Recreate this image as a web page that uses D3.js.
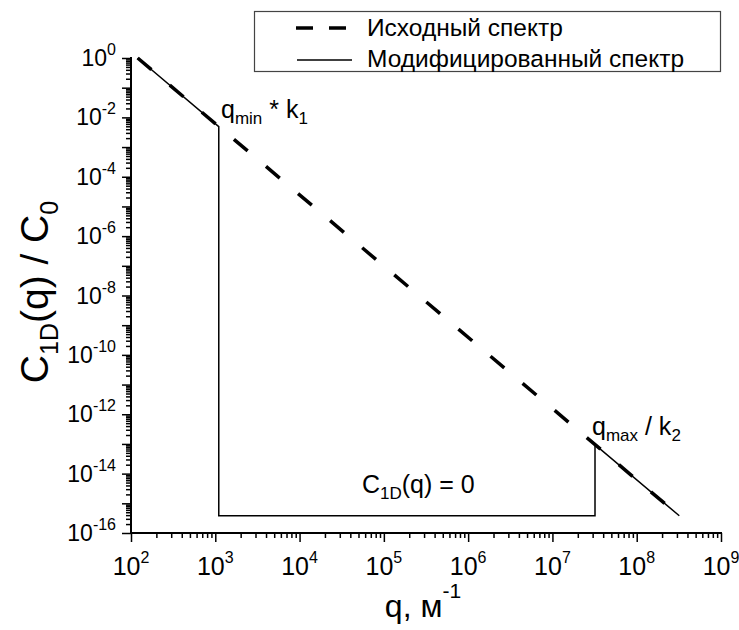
<!DOCTYPE html>
<html>
<head>
<meta charset="utf-8">
<script src="https://cdn.jsdelivr.net/npm/d3@7"></script>
<style>
  html, body { margin: 0; padding: 0; background: #fff; }
  svg { display: block; font-family: "Liberation Sans", Arial, sans-serif; }
</style>
</head>
<body>
<svg id="chart" width="739" height="630"></svg>
<script>
// Original spectrum (straight line in log-log) and its modified version
const origQ = [120, 3.2e8];
const origC = [1, 3.8e-16];
const modQ = [120, 1100, 1100, 3.2e7, 3.2e7, 3.2e8];
const modC = [1, 4.9e-3, 3.8e-16, 3.8e-16, 9.5e-14, 3.8e-16];

const xDecades = [2, 3, 4, 5, 6, 7, 8, 9];
const yDecades = [0, -2, -4, -6, -8, -10, -12, -14, -16];
const legendLabels = ["Исходный спектр", "Модифицированный спектр"];

const svg = d3.select("#chart");
const x = d3.scaleLog().domain([1e2, 1e9]).range([131, 721]);
const y = d3.scaleLog().domain([1, 1e-16]).range([58, 533]);

// minor ticks k*10^n
function minorTicks(lo, hi) {
  const out = [];
  for (let e = lo; e < hi; e++) {
    for (let k = 2; k <= 9; k++) out.push(k * Math.pow(10, e));
  }
  return out;
}
const xMajor = d3.range(2, 10).map(e => Math.pow(10, e));
const yMajor = d3.range(-16, 1).map(e => Math.pow(10, e));

// X axis
const gx = svg.append("g").attr("transform", "translate(0,533)");
gx.call(d3.axisBottom(x).tickValues(xMajor).tickSize(9).tickFormat(""));
gx.append("g").call(d3.axisBottom(x).tickValues(minorTicks(2, 9)).tickSize(5).tickFormat(""))
  .select(".domain").remove();
gx.selectAll(".domain").attr("stroke", "#000").attr("stroke-width", 2).attr("d", "M131,0H722");
gx.selectAll(".tick line").attr("stroke", "#000").attr("stroke-width", 1.5);

// Y axis
const gy = svg.append("g").attr("transform", "translate(131,0)");
gy.call(d3.axisLeft(y).tickValues(yMajor).tickSize(9).tickFormat(""));
gy.append("g").call(d3.axisLeft(y).tickValues(minorTicks(-16, 0)).tickSize(5).tickFormat(""))
  .select(".domain").remove();
gy.selectAll(".domain").attr("stroke", "#000").attr("stroke-width", 2).attr("d", "M0,57V534");
gy.selectAll(".tick line").attr("stroke", "#000").attr("stroke-width", 1.5);

// Tick labels with superscript exponents
svg.append("g").selectAll("text").data(xDecades).join("text")
  .attr("x", d => x(Math.pow(10, d)))
  .attr("y", 575)
  .attr("text-anchor", "middle")
  .attr("font-size", 25)
  .each(function(d) {
    const t = d3.select(this);
    t.append("tspan").text("10");
    t.append("tspan").attr("font-size", 16).attr("dy", -12).text(d);
  });

svg.append("g").selectAll("text").data(yDecades).join("text")
  .attr("x", 116)
  .attr("y", d => y(Math.pow(10, d)) + 8)
  .attr("text-anchor", "end")
  .attr("font-size", 23)
  .each(function(d) {
    const t = d3.select(this);
    t.append("tspan").text("10");
    t.append("tspan").attr("font-size", 16).attr("dy", -11).text(d);
  });

// Axis titles
const xt = svg.append("text").attr("x", 423).attr("y", 617).attr("text-anchor", "middle").attr("font-size", 32);
xt.append("tspan").text("q, м");
xt.append("tspan").attr("font-size", 21).attr("dy", -19).text("-1");

const yt = svg.append("text").attr("transform", "translate(48,292) rotate(-90)").attr("text-anchor", "middle").attr("font-size", 39);
yt.append("tspan").text("C");
yt.append("tspan").attr("font-size", 25).attr("dy", 10).text("1D");
yt.append("tspan").attr("dy", -10).text("(q) / C");
yt.append("tspan").attr("font-size", 25).attr("dy", 10).text("0");

// Lines
const line = d3.line().x(d => x(d[0])).y(d => y(d[1]));
svg.append("path")
  .datum(d3.zip(origQ, origC))
  .attr("d", line)
  .attr("fill", "none")
  .attr("stroke", "#000")
  .attr("stroke-width", 3.5)
  .attr("stroke-dasharray", "18,24");
svg.append("path")
  .datum(d3.zip(modQ, modC))
  .attr("d", line)
  .attr("fill", "none")
  .attr("stroke", "#000")
  .attr("stroke-width", 1.5);

// Annotations
const a1 = svg.append("text").attr("x", 221).attr("y", 118).attr("font-size", 25);
a1.append("tspan").text("q");
a1.append("tspan").attr("font-size", 17).attr("dy", 6).text("min");
a1.append("tspan").attr("dy", -6).text(" * k");
a1.append("tspan").attr("font-size", 17).attr("dy", 6).text("1");

const a2 = svg.append("text").attr("x", 592).attr("y", 435).attr("font-size", 25);
a2.append("tspan").text("q");
a2.append("tspan").attr("font-size", 17).attr("dy", 6).text("max");
a2.append("tspan").attr("dy", -6).text(" / k");
a2.append("tspan").attr("font-size", 17).attr("dy", 6).text("2");

const a3 = svg.append("text").attr("x", 362).attr("y", 493).attr("font-size", 25);
a3.append("tspan").text("C");
a3.append("tspan").attr("font-size", 17).attr("dy", 6).text("1D");
a3.append("tspan").attr("dy", -6).text("(q) = 0");

// Legend
const lg = svg.append("g");
lg.append("rect").attr("x", 254.5).attr("y", 11.5).attr("width", 466).attr("height", 60)
  .attr("fill", "#fff").attr("stroke", "#444").attr("stroke-width", 1.2);
lg.append("line").attr("x1", 296).attr("x2", 347).attr("y1", 28).attr("y2", 28)
  .attr("stroke", "#000").attr("stroke-width", 3.5).attr("stroke-dasharray", "17,16");
lg.append("line").attr("x1", 297).attr("x2", 352).attr("y1", 60).attr("y2", 60)
  .attr("stroke", "#000").attr("stroke-width", 1.5);
lg.selectAll("text.lbl").data(legendLabels).join("text")
  .attr("class", "lbl")
  .attr("x", 367)
  .attr("y", (d, i) => 36 + i * 31)
  .attr("font-size", 24.5)
  .text(d => d);
</script>
</body>
</html>
